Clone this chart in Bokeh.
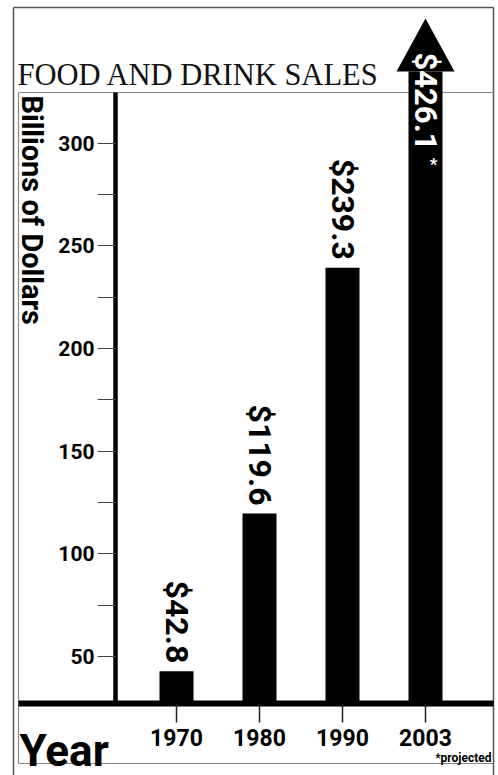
import math
from bokeh.plotting import figure
from bokeh.models import Range1d, LinearAxis, FixedTicker
from bokeh.core.properties import value
from bokeh.embed import file_html
from bokeh.resources import INLINE

# ---------------- data ----------------
chart_title = "FOOD AND DRINK SALES"
years = ["1970", "1980", "1990", "2003"]
sales = [42.8, 119.6, 239.3, 426.1]          # billions of dollars
projected = [False, False, False, True]
y_ticks = [50, 100, 150, 200, 250, 300]
y_minor_ticks = [75, 125, 175, 225, 275]
y_label = "Billions of Dollars"
x_label = "Year"
footnote = "*projected"

# ---------------- layout (screen-pixel helpers) ----------------
W, H = 498, 775
PX_PER_UNIT_Y = 2.053          # pixels per billion
PY_OF_50 = 656                 # pixel row of the 50 tick
PX_PER_SLOT = 83               # pixels between bar centres
PX_FIRST_BAR = 176             # pixel column of the first bar centre

y_top = 50 + PY_OF_50 / PX_PER_UNIT_Y
y_bot = y_top - H / PX_PER_UNIT_Y
x_left = -PX_FIRST_BAR / PX_PER_SLOT
x_right = x_left + W / PX_PER_SLOT


def X(px):
    return x_left + px / PX_PER_SLOT


def Y(py):
    return y_top - py / PX_PER_UNIT_Y


SANS = "Roboto"
SERIF = "Liberation Serif"

p = figure(width=W, height=H, output_backend="svg", toolbar_location=None,
           x_range=Range1d(x_left, x_right), y_range=Range1d(y_bot, y_top),
           x_axis_type=None, y_axis_type=None, min_border=0,
           background_fill_color="white", border_fill_color="white")
p.outline_line_color = None
p.xgrid.visible = False
p.ygrid.visible = False

base = Y(703)       # value at the baseline rule
box_top = Y(92)
cap = Y(71)         # where the off-scale bar turns into an arrow

# ---------------- frames ----------------
p.segment(x0=[X(13), X(13), X(493)], y0=[Y(7), Y(7), Y(7)],
          x1=[X(493), X(13), X(493)], y1=[Y(7), Y(775), Y(775)],
          line_color="#555555", line_width=1.5)
p.segment(x0=[X(18), X(18), X(18)], y0=[box_top, box_top, Y(763)],
          x1=[X(493), X(18), X(493)], y1=[box_top, Y(763), Y(763)],
          line_color="#888888", line_width=1.2)

# ---------------- bars ----------------
idx = list(range(len(years)))
tops = [min(v, cap) for v in sales]
bar_w = 34 / PX_PER_SLOT
p.vbar(x=idx, top=tops, bottom=base, width=bar_w, fill_color="black", line_color=None)

head_half = 29 / PX_PER_SLOT
for i, v in enumerate(sales):
    if v > cap:
        p.patch(x=[i - head_half, i, i + head_half], y=[cap, Y(18), cap],
                fill_color="black", line_color=None)

# ---------------- value labels ----------------
gap = 8 / PX_PER_UNIT_Y
in_i = [i for i, v in enumerate(sales) if v <= cap]
p.text(x=in_i, y=[sales[i] + gap for i in in_i],
       text=["$%.1f" % sales[i] for i in in_i], angle=-math.pi / 2,
       text_align="right", text_baseline="middle",
       text_font=value(SANS), text_font_style="bold", text_font_size="32px",
       text_color="black")
out_i = [i for i, v in enumerate(sales) if v > cap]
p.text(x=out_i, y=[Y(52)] * len(out_i),
       text=["$%.1f" % sales[i] for i in out_i], angle=-math.pi / 2,
       text_align="left", text_baseline="middle",
       text_font=value(SANS), text_font_style="bold", text_font_size="31px",
       text_color="white")
star_i = [i for i in out_i if projected[i]]
p.text(x=[i + 8 / PX_PER_SLOT for i in star_i], y=[Y(153)] * len(star_i),
       text=["*"] * len(star_i), text_align="center", text_baseline="top",
       text_font=value(SANS), text_font_style="bold", text_font_size="17px",
       text_color="white")

# ---------------- texts ----------------
p.text(x=[X(17)], y=[Y(74)], text=[chart_title], text_align="left",
       text_baseline="alphabetic", text_font=value(SERIF), text_font_size="30.5px",
       text_color="#111111")
p.text(x=[X(31)], y=[Y(95)], text=[y_label], angle=-math.pi / 2,
       text_align="left", text_baseline="middle",
       text_font=value(SANS), text_font_style="bold", text_font_size="29px",
       text_color="black")
p.text(x=[X(19)], y=[Y(750)], text=[x_label], text_align="left",
       text_baseline="alphabetic", text_font=value(SANS), text_font_style="bold",
       text_font_size="44px", text_color="black")
p.text(x=[X(491)], y=[Y(764)], text=[footnote], text_align="right",
       text_baseline="bottom", text_font=value(SANS), text_font_style="bold",
       text_font_size="12px", text_color="black")

# ---------------- axes ----------------
yaxis = LinearAxis(fixed_location=X(115),
                   ticker=FixedTicker(ticks=y_ticks, minor_ticks=y_minor_ticks),
                   bounds=(base, box_top))
yaxis.axis_line_width = 4.5
yaxis.axis_line_color = "black"
yaxis.major_tick_in = 0
yaxis.major_tick_out = 18
yaxis.minor_tick_in = 0
yaxis.minor_tick_out = 18
yaxis.major_tick_line_color = "#444444"
yaxis.minor_tick_line_color = "#444444"
yaxis.major_tick_line_width = 1
yaxis.minor_tick_line_width = 1
yaxis.major_label_standoff = 3
yaxis.major_label_text_font = SANS
yaxis.major_label_text_font_style = "bold"
yaxis.major_label_text_font_size = "21px"
yaxis.major_label_text_color = "black"
p.add_layout(yaxis, "left")

xaxis = LinearAxis(fixed_location=base,
                   ticker=FixedTicker(ticks=idx),
                   major_label_overrides={i: y for i, y in enumerate(years)},
                   bounds=(X(18), X(493)))
xaxis.axis_line_width = 6
xaxis.axis_line_color = "black"
xaxis.major_tick_in = 0
xaxis.major_tick_out = 19
xaxis.minor_tick_in = 0
xaxis.minor_tick_out = 0
xaxis.major_tick_line_color = "#222222"
xaxis.major_tick_line_width = 1.5
xaxis.major_label_standoff = 6
xaxis.major_label_text_font = SANS
xaxis.major_label_text_font_style = "bold"
xaxis.major_label_text_font_size = "23px"
xaxis.major_label_text_color = "black"
p.add_layout(xaxis, "below")

open("out.html", "w").write(file_html(p, INLINE))
